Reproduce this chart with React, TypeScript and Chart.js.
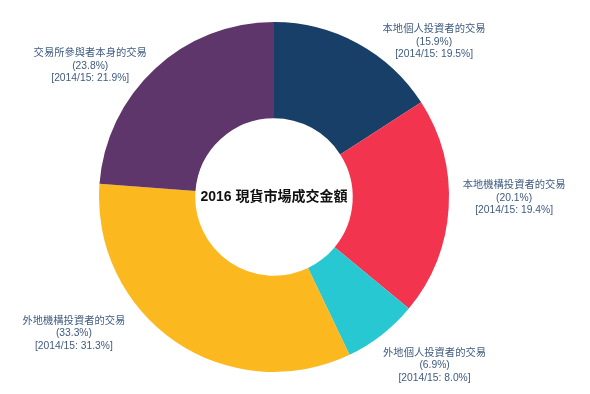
import React, { useEffect, useRef } from "react";
import { Chart, registerables } from "chart.js";

Chart.register(...registerables);

const categories = [
  "本地個人投資者的交易",
  "本地機構投資者的交易",
  "外地個人投資者的交易",
  "外地機構投資者的交易",
  "交易所參與者本身的交易",
];
const values2016 = [15.9, 20.1, 6.9, 33.3, 23.8];
const values2015 = [19.5, 19.4, 8.0, 31.3, 21.9];
const prevLabel = "2014/15";
const centerTitle = "2016 現貨市場成交金額";
const colors = ["#173f67", "#f2344e", "#28c8d3", "#fbb81f", "#5e366b"];

const FONT = '"Liberation Sans", Arial, "Noto Sans CJK TC", sans-serif';

// label nudges (px) relative to the arc-anchored position
const labelNudge = [
  [19, 9],
  [2, -10],
  [-6, 21],
  [-43, -18],
  [0, 6],
];

const labelPlugin = {
  id: "outerLabels",
  afterDraw(chart: any) {
    const ctx = chart.ctx;
    const meta = chart.getDatasetMeta(0);
    ctx.save();
    ctx.font = `10.3px ${FONT}`;
    ctx.fillStyle = "#3f5b80";
    ctx.textBaseline = "middle";
    meta.data.forEach((arc: any, i: number) => {
      const p = arc.getProps(["startAngle", "endAngle", "outerRadius", "x", "y"], true);
      const mid = (p.startAngle + p.endAngle) / 2;
      const r = p.outerRadius + 12;
      const ax = p.x + Math.cos(mid) * r + labelNudge[i][0];
      const ay = p.y + Math.sin(mid) * r + labelNudge[i][1];
      const lines = [
        categories[i],
        `(${values2016[i].toFixed(1)}%)`,
        `[${prevLabel}: ${values2015[i].toFixed(1)}%]`,
      ];
      const widths = lines.map((l) => ctx.measureText(l).width);
      const w = Math.max(...widths);
      const right = Math.cos(mid) >= 0;
      const cx = right ? ax + w / 2 : ax - w / 2;
      const lh = 12.5;
      const top = ay - lh;
      ctx.textAlign = "center";
      lines.forEach((l, k) => ctx.fillText(l, cx, top + k * lh));
    });
    ctx.font = `bold 14px ${FONT}`;
    ctx.fillStyle = "#111";
    ctx.textAlign = "center";
    const a0 = meta.data[0];
    ctx.fillText(centerTitle, a0.x, a0.y);
    ctx.restore();
  },
};

export default function App() {
  const ref = useRef<HTMLCanvasElement>(null);
  useEffect(() => {
    if (!ref.current) return;
    const chart = new Chart(ref.current, {
      type: "doughnut",
      data: {
        labels: categories,
        datasets: [
          {
            data: values2016,
            backgroundColor: colors,
            borderWidth: 0,
          },
        ],
      },
      options: {
        animation: false,
        responsive: false,
        cutout: "45%",
        layout: { padding: { top: 22, bottom: 22, left: 0, right: 42 } },
        plugins: {
          legend: { display: false },
          tooltip: { enabled: false },
        },
      },
      plugins: [labelPlugin],
    });
    return () => chart.destroy();
  }, []);
  return (
    <div style={{ position: "fixed", left: 0, top: 0, width: 590, height: 394, background: "#fff" }}>
      <canvas ref={ref} width={590} height={394} style={{ width: 590, height: 394 }} />
    </div>
  );
}
